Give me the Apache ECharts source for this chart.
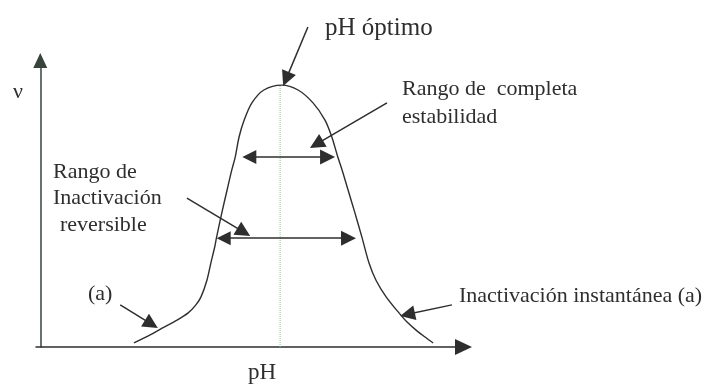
<!DOCTYPE html>
<html>
<head>
<meta charset="utf-8">
<script src="https://cdn.jsdelivr.net/npm/echarts@6/dist/echarts.min.js"></script>
<style>
  html, body { margin: 0; padding: 0; background: #ffffff; }
  #chart { width: 709px; height: 385px; }
</style>
</head>
<body>
<div id="chart"></div>
<script>
// Enzyme activity (ν) versus pH: bell-shaped stability curve.
const curvePH   = [2.19, 2.57, 2.85, 3.20, 3.46, 3.64, 3.76, 3.90, 3.99, 4.08, 4.12, 4.24, 4.37, 4.48, 4.56, 4.65, 4.77, 4.95, 5.23, 5.65,
                   6.03, 6.38, 6.66, 6.82, 6.96, 7.06, 7.20, 7.36, 7.53, 7.69, 7.85, 8.09, 8.39, 8.58, 8.79, 9.00, 9.19];
const curveRate = [0.14, 0.42, 0.66, 0.94, 1.19, 1.47, 1.75, 2.34, 2.93, 3.49, 3.80, 4.64, 5.48, 6.18, 6.63, 7.33, 7.92, 8.52, 8.97, 9.14,
                   8.97, 8.52, 7.92, 7.33, 6.63, 6.18, 5.48, 4.68, 3.80, 2.93, 2.34, 1.75, 1.19, 0.87, 0.59, 0.35, 0.14];

// Optimum pH (the dotted vertical guide)
const optimumPH = 5.61;
const optimumRate = 9.14;

// Pointer arrows: [fromPH, fromRate, toPH, toRate]
const pointerArrows = [
  [6.26, 11.17, 5.75, 9.35],   // pH óptimo
  [8.11, 8.52, 6.46, 7.08],    // Rango de completa estabilidad
  [3.43, 5.20, 4.76, 4.01],    // Rango de inactivación reversible
  [1.87, 1.47, 2.60, 0.80],    // (a) left tail
  [9.63, 1.47, 8.59, 1.14]     // Inactivación instantánea (a)
];

// Range arrows (double-headed): [fromPH, toPH, rate]
const rangeArrows = [
  [4.89, 6.72, 6.63],          // completa estabilidad
  [4.29, 7.21, 3.80]           // inactivación reversible
];

const ink = '#2e2e2e';
const serif = "'Liberation Serif', 'Times New Roman', serif";

const chart = echarts.init(document.getElementById('chart'), null, { renderer: 'canvas' });

const txt = (text, x, y, size, align) => ({
  type: 'text',
  style: {
    text: text, x: x, y: y,
    fill: ink,
    font: size + 'px ' + serif,
    align: align || 'left',
    verticalAlign: 'middle'
  },
  silent: true
});

chart.setOption({
  animation: false,
  backgroundColor: '#ffffff',
  grid: { left: 36, right: 245.5, top: 60.5, bottom: 38 },
  xAxis: {
    type: 'value', min: -0.1, max: 9.9,
    axisLine: {
      show: true, onZero: false,
      symbol: ['none', 'triangle'], symbolSize: [16, 17],
      lineStyle: { color: ink, width: 1.5 }
    },
    axisTick: { show: false }, axisLabel: { show: false }, splitLine: { show: false }
  },
  yAxis: {
    type: 'value', min: 0, max: 10,
    axisLine: {
      show: true, onZero: true,
      symbol: ['none', 'triangle'], symbolSize: [14, 15],
      lineStyle: { color: '#38433c', width: 1.5 }
    },
    axisTick: { show: false }, axisLabel: { show: false }, splitLine: { show: false }
  },
  series: [
    {
      type: 'line',
      data: [[optimumPH, 0], [optimumPH, optimumRate]],
      showSymbol: false, silent: true,
      lineStyle: { color: '#8cc79a', width: 1, type: 'dotted' },
      z: 1
    },
    {
      type: 'line',
      data: curvePH.map((p, i) => [p, curveRate[i]]),
      smooth: 0.3, showSymbol: false, silent: true, clip: false,
      lineStyle: { color: ink, width: 1.4 },
      z: 2
    },
    {
      type: 'lines', coordinateSystem: 'cartesian2d', clip: false, silent: true,
      symbol: ['none', 'triangle'], symbolSize: [14, 15],
      lineStyle: { color: ink, width: 1.5, opacity: 1 },
      data: pointerArrows.map(a => ({ coords: [[a[0], a[1]], [a[2], a[3]]] })),
      z: 3
    },
    {
      type: 'lines', coordinateSystem: 'cartesian2d', clip: false, silent: true,
      symbol: ['triangle', 'triangle'], symbolSize: [14, 15],
      lineStyle: { color: ink, width: 1.5, opacity: 1 },
      data: rangeArrows.map(a => ({ coords: [[a[0], a[2]], [a[1], a[2]]] })),
      z: 3
    }
  ],
  graphic: [
    txt('ν', 13, 92.5, 22),
    txt('pH', 262, 373, 23, 'center'),
    txt('pH óptimo', 325, 28, 25),
    txt('Rango de  completa', 402, 89.5, 22),
    txt('estabilidad', 402, 117.5, 22),
    txt('Rango de', 53, 172.5, 22),
    txt('Inactivación', 53, 198.5, 22),
    txt('reversible', 60, 225.5, 22),
    txt('(a)', 88, 294.5, 22),
    txt('Inactivación instantánea (a)', 459, 296.5, 22)
  ]
});
</script>
</body>
</html>
